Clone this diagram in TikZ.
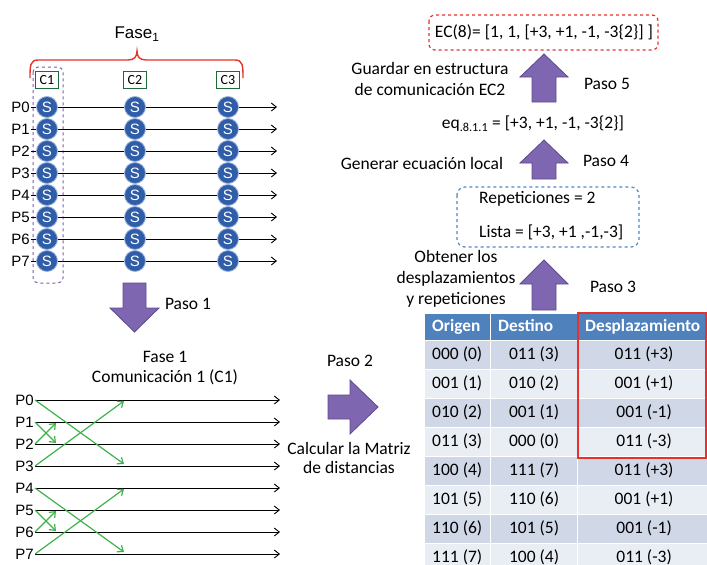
\documentclass[tikz,border=0pt]{standalone}
\usepackage{fontspec}
\setmainfont{Carlito}
\newfontfamily\arialf{Liberation Sans}
\usetikzlibrary{arrows.meta,calc}
\definecolor{sblue}{HTML}{2F5DA8}
\definecolor{sedge}{HTML}{9DB3DD}
\definecolor{cgreen}{HTML}{1E6B3A}
\definecolor{dpurple}{HTML}{7F5FAF}
\definecolor{apurple}{HTML}{7F66B0}
\definecolor{apedge}{HTML}{5E4A8E}
\definecolor{gline}{HTML}{3CB44A}
\definecolor{bred}{HTML}{E5322D}
\definecolor{dblue}{HTML}{4A8AD0}
\definecolor{thead}{HTML}{4F81BD}
\definecolor{rowA}{HTML}{D0D8E8}
\definecolor{rowB}{HTML}{E9EDF4}
\tikzset{
  txt/.style={font=\fontsize{17.5}{21}\selectfont, inner sep=0pt, align=center},
  plabel/.style={font=\arialf\fontsize{15}{17}\selectfont, inner sep=1pt},
  tline/.style={draw=black, line width=0.9pt, -{Straight Barb[length=5pt,width=8pt]}},
  gline/.style={draw=gline, line width=1.2pt, -{Straight Barb[length=5pt,width=8pt]}},
  scirc/.style={circle, fill=sblue, draw=sedge, line width=0.8pt, minimum size=21pt, inner sep=0pt,
    text=white, font=\arialf\fontsize{15}{16}\selectfont},
  cbox/.style={rectangle, draw=cgreen, line width=1.4pt, fill=white, minimum width=23pt,
    minimum height=17pt, inner sep=0pt, font=\fontsize{14}{15}\selectfont},
  bigarrow/.style={fill=apurple, draw=apedge, line width=0.8pt, line join=miter},
  cell/.style={rectangle, draw=white, line width=1.2pt, inner sep=0pt, minimum height=29pt,
    anchor=north west},
  celltxt/.style={inner sep=0pt, text height=12pt, text depth=4pt,
    font=\fontsize{17.5}{20}\selectfont},
  htxt/.style={celltxt, anchor=west, text=white, font=\bfseries\fontsize{17.3}{20}\selectfont},
}
\begin{document}
\begin{tikzpicture}[x=1pt,y=-1pt]
\useasboundingbox (0,0) rectangle (707,565);
\fill[white] (0,0) rectangle (707,565);

% ---------- Phase 1 overview: processes and stages ----------
\node[font=\arialf\fontsize{17}{19}\selectfont, inner sep=0pt] (fase) at (137,34) {Fase\textsubscript{1}};
\draw[bred, line width=1.4pt] (30,78) .. controls (30,66) and (30,60) .. (38,60)
  -- (128,60) .. controls (134,60) and (137,57) .. (137,51)
  .. controls (137,57) and (140,60) .. (146,60)
  -- (235,60) .. controls (243,60) and (243,66) .. (243,78);

\draw[dpurple, dashed, line width=1pt, rounded corners=5pt] (33,67) rectangle (63,283);

\node[cbox] (c1) at (47,80) {C1};
\node[cbox] (c2) at (135,80) {C2};
\node[cbox] (c3) at (228,80) {C3};

\foreach \i/\y in {0/107,1/129,2/151,3/173,4/195,5/217,6/239,7/261} {
  \node[plabel, anchor=east] (p\i) at (31,\y) {P\i};
  \coordinate (e\i) at (277,\y);
  \draw[tline] (p\i.east) -- (e\i);
  \node[scirc] (sa\i) at (47,\y) {S};
  \node[scirc] (sb\i) at (135,\y) {S};
  \node[scirc] (sc\i) at (228,\y) {S};
}

% Paso 1
\filldraw[bigarrow] (123,283) -- (146,283) -- (146,308) -- (159,308) -- (134.5,332)
  -- (110,308) -- (123,308) -- cycle;
\node[txt] (paso1) at (188,304) {Paso 1};

% ---------- Communication 1 of phase 1 ----------
\node[txt] (fase1) at (165,357) {Fase 1};
\node[txt] (com1) at (165,377) {Comunicación 1 (C1)};

\foreach \i/\y in {0/400,1/422,2/444,3/466,4/488,5/510,6/532,7/554} {
  \node[plabel, anchor=east] (q\i) at (35,\y) {P\i};
  \coordinate (f\i) at (280,\y);
  \draw[tline] (q\i.east) -- (f\i);
}
\foreach \a/\b/\c/\d in {0/3/400/466,4/7/488/554} {
  \coordinate (ga\a) at (124,\d-2);
  \coordinate (gb\b) at (124,\c+1);
  \draw[gline] (q\a.east) -- (ga\a);
  \draw[gline] (q\b.east) -- (gb\b);
}
\foreach \a/\b/\c/\d in {1/2/422/444,5/6/510/532} {
  \coordinate (ha\a) at (56,\d-1);
  \coordinate (hb\b) at (56,\c+1);
  \draw[gline] (q\a.east) -- (ha\a);
  \draw[gline] (q\b.east) -- (hb\b);
}

% Paso 2
\node[txt] (paso2) at (350,361) {Paso 2};
\filldraw[bigarrow] (328,395) -- (350,395) -- (350,380) -- (378,407) -- (350,434)
  -- (350,419) -- (328,419) -- cycle;
\node[txt, font=\fontsize{17.5}{19}\selectfont] (calc) at (349,458) {Calcular la Matriz\\de distancias};

% ---------- Distance table ----------
\node[cell, fill=thead, minimum width=66pt, minimum height=27pt] (h1) at (424,313) {};
\node[cell, fill=thead, minimum width=87pt, minimum height=27pt] (h2) at (490,313) {};
\node[cell, fill=thead, minimum width=140pt, minimum height=27pt] (h3) at (577,313) {};
\node[htxt] (th1) at ([xshift=8pt]h1.west) {Origen};
\node[htxt] (th2) at ([xshift=8pt]h2.west) {Destino};
\node[htxt] (th3) at ([xshift=8pt]h3.west) {Desplazamiento};

\foreach \r/\o/\d/\s in {1/000 (0)/011 (3)/011 (+3), 2/001 (1)/010 (2)/001 (+1),
  3/010 (2)/001 (1)/001 (-1), 4/011 (3)/000 (0)/011 (-3),
  5/100 (4)/111 (7)/011 (+3), 6/101 (5)/110 (6)/001 (+1),
  7/110 (6)/101 (5)/001 (-1), 8/111 (7)/100 (4)/011 (-3)} {
  \pgfmathsetmacro{\yy}{340+(\r-1)*29}
  \pgfmathparse{isodd(\r) ? "rowA" : "rowB"}
  \edef\rc{\pgfmathresult}
  \node[cell, fill=\rc, minimum width=66pt] (o\r) at (424,\yy) {};
  \node[cell, fill=\rc, minimum width=87pt] (d\r) at (490,\yy) {};
  \node[cell, fill=\rc, minimum width=133pt] (s\r) at (577,\yy) {};
  \node[celltxt, anchor=west] (to\r) at ([xshift=8pt]o\r.west) {\o};
  \node[celltxt] (td\r) at (d\r.center) {\d};
  \node[celltxt] (ts\r) at (s\r.center) {\s};
}
\draw[bred, line width=1.6pt] (578,313) rectangle (706,458);

% Paso 3
\filldraw[bigarrow] (532,310) -- (532,284) -- (520,284) -- (544,260) -- (568,284)
  -- (556,284) -- (556,310) -- cycle;
\node[txt] (obt) at (456,279) {Obtener los\\desplazamientos\\y repeticiones};
\node[txt] (paso3) at (613,287) {Paso 3};

\draw[dblue, dashed, line width=1.2pt, rounded corners=8pt] (457,187) rectangle (639,247);
\node[txt, anchor=west] (rep) at (479,199) {Repeticiones = 2};
\node[txt, anchor=west] (lista) at (479,232) {Lista = [+3, +1 ,-1,-3]};

% Paso 4
\filldraw[bigarrow] (532,179) -- (532,163) -- (520,163) -- (544,140) -- (568,163)
  -- (556,163) -- (556,179) -- cycle;
\node[txt] (gen) at (422,163) {Generar ecuación local};
\node[txt] (paso4) at (606,161) {Paso 4};

\node[txt] (eq) at (533,124) {eq\textsubscript{.8.1.1} = [+3, +1, -1, -3\{2\}]};

% Paso 5
\filldraw[bigarrow] (532,102) -- (532,77) -- (520,77) -- (544,54) -- (568,77)
  -- (556,77) -- (556,102) -- cycle;
\node[txt] (guard) at (430,79) {Guardar en estructura\\de comunicación EC2};
\node[txt] (paso5) at (607,84) {Paso 5};

\draw[bred, dashed, line width=1.2pt, rounded corners=6pt] (429,15) rectangle (658,50);
\node[txt] (ec) at (544,32) {EC(8)= [1, 1, [+3, +1, -1, -3\{2\}] ]};
\end{tikzpicture}
\end{document}
